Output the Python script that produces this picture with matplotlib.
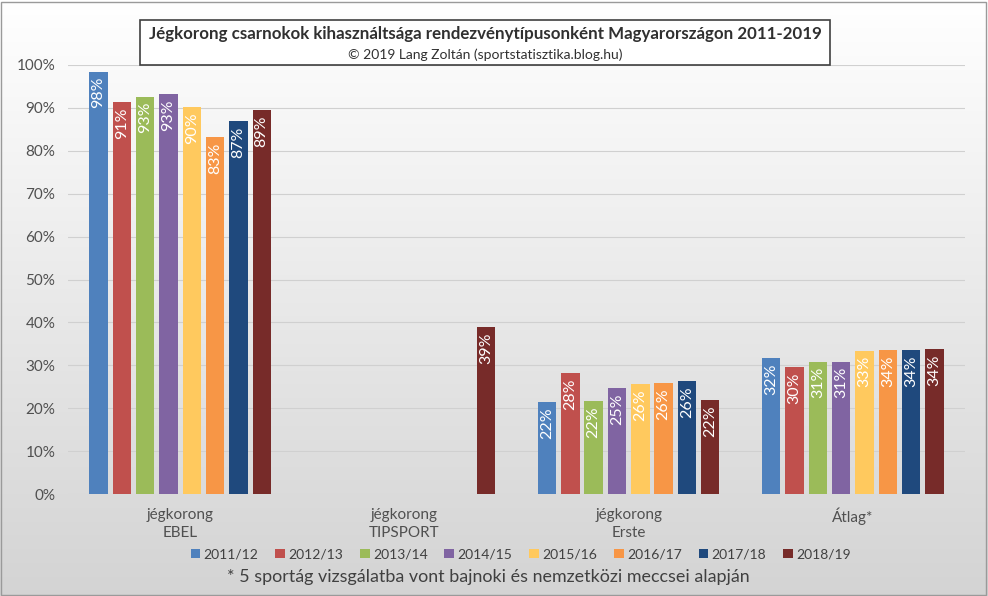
import numpy as np
import matplotlib.pyplot as plt
from matplotlib.patches import Rectangle

plt.rcParams['font.family'] = ['Lato', 'DejaVu Sans']

# Categories and seasons
categories = ["jégkorong\nEBEL", "jégkorong\nTIPSPORT", "jégkorong\nErste", "Átlag*"]
seasons = ["2011/12", "2012/13", "2013/14", "2014/15", "2015/16", "2016/17", "2017/18", "2018/19"]
colors = ["#4F81BD", "#C0504D", "#9BBB59", "#8064A2", "#FFC95E", "#F79646", "#1F497D", "#772B29"]

# Values per season (None = no data)
s2011 = [98.4, None, 21.5, 31.7]
s2012 = [91.4, None, 28.2, 29.6]
s2013 = [92.6, None, 21.7, 30.8]
s2014 = [93.2, None, 24.7, 30.8]
s2015 = [90.2, None, 25.6, 33.4]
s2016 = [83.2, None, 25.9, 33.6]
s2017 = [86.9, None, 26.3, 33.6]
s2018 = [89.4, 38.9, 21.9, 33.8]
values = [s2011, s2012, s2013, s2014, s2015, s2016, s2017, s2018]

fig = plt.figure(figsize=(9.88, 5.96), dpi=100)

# Background gradient
bg = fig.add_axes([0, 0, 1, 1], zorder=-10)
grad = np.linspace(1.0, 0.83, 256).reshape(-1, 1)
bg.imshow(np.dstack([grad, grad, grad]), aspect='auto', extent=[0, 1, 0, 1])
bg.set_xlim(0, 1)
bg.set_ylim(0, 1)
bg.axis('off')
fig.patches.append(Rectangle((0.001, 0.002), 0.997, 0.995, fill=False, edgecolor='#9a9a9a',
                             linewidth=1, transform=fig.transFigure))

ax = fig.add_axes([0.0688, 0.171, 0.908, 0.720])
ax.patch.set_alpha(0)

x = np.arange(len(categories))
step = 0.104
width = 0.082
for i, (season, vals) in enumerate(zip(seasons, values)):
    offs = (i - 3.5) * step
    for j, v in enumerate(vals):
        if v is None:
            continue
        ax.bar(x[j] + offs, v, width, color=colors[i], zorder=3)
        ax.text(x[j] + offs, v - 1.2, f"{round(v):.0f}%", rotation=90, ha='center', va='top',
                color='white', fontsize=11.5, zorder=4)
    ax.bar([0], [0], width, color=colors[i], label=season)

ax.set_xlim(-0.5, 3.5)
ax.set_ylim(0, 100)
ax.set_yticks(np.arange(0, 101, 10))
ax.set_yticklabels([f"{t}%" for t in range(0, 101, 10)], fontsize=11, color='#505050')
ax.set_xticks(x)
ax.set_xticklabels(categories, fontsize=11, color='#505050', linespacing=1.35)
ax.grid(axis='y', color='#d0d0d0', linewidth=0.8, zorder=0)
for s in ['top', 'right', 'left', 'bottom']:
    ax.spines[s].set_visible(False)
ax.tick_params(axis='y', length=0, pad=9)
ax.tick_params(axis='x', length=0, pad=10)

# Title box
fig.patches.append(Rectangle((0.142, 0.891), 0.698, 0.076, facecolor='white', edgecolor='#404040',
                             linewidth=1.2, transform=fig.transFigure))
fig.text(0.491, 0.943, "Jégkorong csarnokok kihasználtsága rendezvénytípusonként Magyarországon 2011-2019",
         ha='center', va='center', fontsize=12.2, fontweight='bold', color='#303030')
fig.text(0.491, 0.909, "© 2019 Lang Zoltán (sportstatisztika.blog.hu)", ha='center', va='center',
         fontsize=10, color='#303030')

leg = fig.legend(loc='center', bbox_to_anchor=(0.527, 0.070), ncol=8, frameon=False, fontsize=10,
                 handlelength=0.7, handleheight=0.7, handletextpad=0.25, columnspacing=1.2)
for t in leg.get_texts():
    t.set_color('#404040')

fig.text(0.494, 0.032, "* 5 sportág vizsgálatba vont bajnoki és nemzetközi meccsei alapján",
         ha='center', va='center', fontsize=12.9, color='#404040')

fig.savefig("out.png", dpi=100)
